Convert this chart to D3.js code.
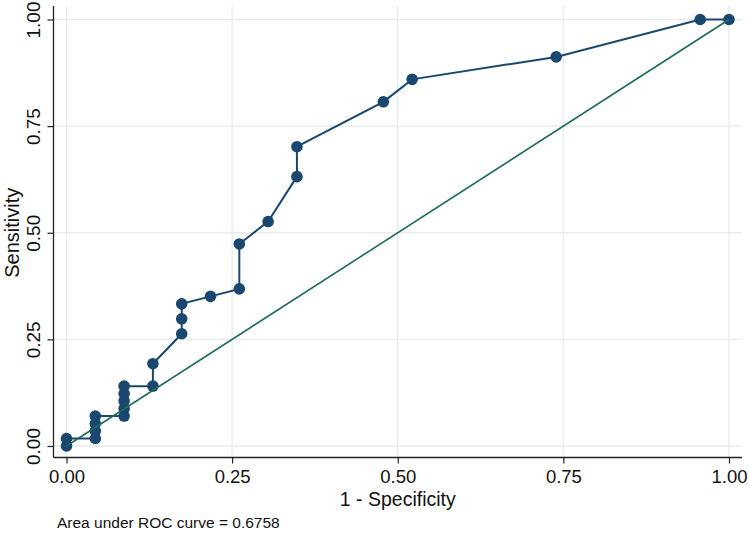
<!DOCTYPE html>
<html>
<head>
<meta charset="utf-8">
<script src="https://cdn.jsdelivr.net/npm/d3@7"></script>
<style>
  html, body { margin: 0; padding: 0; background: #ffffff; }
  svg { display: block; font-family: "Liberation Sans", Arial, sans-serif; }
</style>
</head>
<body>
<svg id="chart" width="749" height="533"></svg>
<script>
// ROC points: 1 - specificity (false positives out of 23 negatives),
// sensitivity (true positives out of 57 positives)
const fpCounts = [0, 0, 1, 1, 1, 1, 2, 2, 2, 2, 2, 3, 3, 4, 4, 4, 5, 6, 6, 7, 8, 8, 11, 12, 17, 22, 23];
const tpCounts = [0, 1, 1, 2, 3, 4, 4, 5, 6, 7, 8, 8, 11, 15, 17, 19, 20, 21, 27, 30, 36, 40, 46, 49, 52, 57, 57];
const nNeg = 23;
const nPos = 57;
const xTicks = [0, 0.25, 0.5, 0.75, 1];
const yTicks = [0, 0.25, 0.5, 0.75, 1];
const xTitle = "1 - Specificity";
const yTitle = "Sensitivity";
const note = "Area under ROC curve = 0.6758";

const points = fpCounts.map((f, i) => ({ x: f / nNeg, y: tpCounts[i] / nPos }));

const svg = d3.select("#chart");
const x = d3.scaleLinear().domain([0, 1]).range([66.5, 729]);
const y = d3.scaleLinear().domain([0, 1]).range([446, 19.5]);

const axisX = 53.5, axisY = 457.5, plotTop = 6, plotRight = 742;
const gridColor = "#e4ecef";
const navy = "#1a476f";
const green = "#1f6b57";

// grid
svg.append("g").selectAll("line.hg").data(yTicks).join("line")
  .attr("x1", axisX).attr("x2", plotRight)
  .attr("y1", d => y(d)).attr("y2", d => y(d))
  .attr("stroke", gridColor).attr("stroke-width", 1.3);
svg.append("g").selectAll("line.vg").data(xTicks).join("line")
  .attr("x1", d => x(d)).attr("x2", d => x(d))
  .attr("y1", plotTop).attr("y2", axisY)
  .attr("stroke", gridColor).attr("stroke-width", 1.3);

// y axis
const yAxis = d3.axisLeft(y).tickValues(yTicks).tickFormat(d3.format(".2f")).tickSize(6).tickPadding(4);
const gy = svg.append("g").attr("transform", `translate(${axisX},0)`).call(yAxis);
gy.select(".domain").remove();
gy.selectAll(".tick line").attr("stroke", "#222").attr("stroke-width", 1.2);
gy.selectAll(".tick text")
  .attr("font-size", 19).attr("fill", "#111")
  .attr("transform", "rotate(-90)")
  .attr("x", 0).attr("y", -14)
  .attr("text-anchor", "middle")
  .attr("dy", 0);
svg.append("line").attr("x1", axisX).attr("x2", axisX).attr("y1", plotTop).attr("y2", axisY)
  .attr("stroke", "#222").attr("stroke-width", 1.3);

// x axis
const xAxis = d3.axisBottom(x).tickValues(xTicks).tickFormat(d3.format(".2f")).tickSize(6).tickPadding(6);
const gx = svg.append("g").attr("transform", `translate(0,${axisY})`).call(xAxis);
gx.select(".domain").remove();
gx.selectAll(".tick line").attr("stroke", "#222").attr("stroke-width", 1.2);
gx.selectAll(".tick text").attr("font-size", 18.5).attr("fill", "#111").attr("dy", "0.75em");
svg.append("line").attr("x1", axisX).attr("x2", plotRight).attr("y1", axisY).attr("y2", axisY)
  .attr("stroke", "#222").attr("stroke-width", 1.3);

// titles
svg.append("text").attr("x", (x(0) + x(1)) / 2).attr("y", 506)
  .attr("text-anchor", "middle").attr("font-size", 19.5).attr("fill", "#111").text(xTitle);
svg.append("text").attr("transform", `translate(19,${y(0.5)}) rotate(-90)`)
  .attr("text-anchor", "middle").attr("font-size", 20).attr("fill", "#111").text(yTitle);
svg.append("text").attr("x", 57).attr("y", 528)
  .attr("font-size", 15.5).attr("fill", "#111").text(note);

// ROC curve
const line = d3.line().x(d => x(d.x)).y(d => y(d.y));
svg.append("path").datum(points).attr("d", line)
  .attr("fill", "none").attr("stroke", navy).attr("stroke-width", 2);
svg.append("g").selectAll("circle").data(points).join("circle")
  .attr("cx", d => x(d.x)).attr("cy", d => y(d.y)).attr("r", 5.8)
  .attr("fill", navy);

// reference line
svg.append("path").datum([{x: 0, y: 0}, {x: 1, y: 1}]).attr("d", line)
  .attr("fill", "none").attr("stroke", green).attr("stroke-width", 1.6);
</script>
</body>
</html>
